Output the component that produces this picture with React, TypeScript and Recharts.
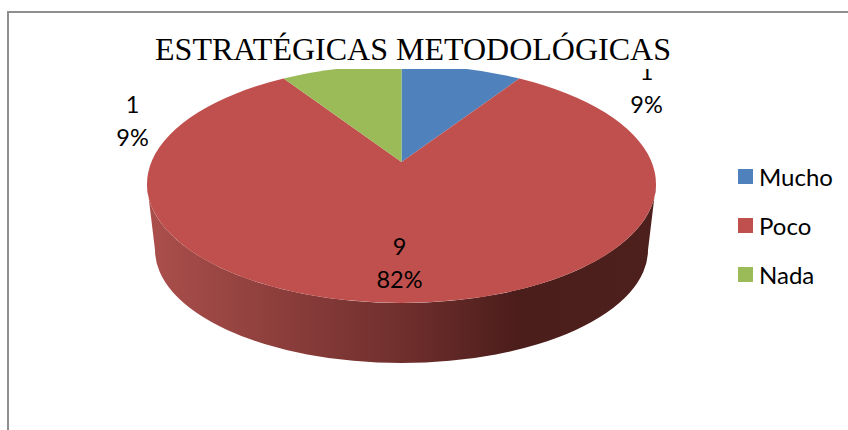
import { PieChart, Pie, Legend } from "recharts"

const CATEGORIES = ["Mucho", "Poco", "Nada"]
const VALUES = [1, 9, 1]
const COLORS = ["#4F81BD", "#C0504D", "#9BBB59"]

const chartData = CATEGORIES.map((name, i) => ({ name, value: VALUES[i], fill: COLORS[i] }))

const FONT = "Lato, sans-serif"

// tilt of the fake 3D disc
const SQUASH = 0.4676
const APEX_UP = 22 // the hub sits above the ellipse centre because of the perspective
const PERSPECTIVE = 0.836
const DEPTH = 66

const rad = (d: number) => (d * Math.PI) / 180

// clockwise degrees from the top -> ellipse parameter
function project(a: number) {
  if (a > 180) return 360 - project(360 - a)
  return (2 * Math.atan(PERSPECTIVE * Math.tan(rad(a) / 2)) * 180) / Math.PI
}

function DiscSector(props: any) {
  const { cx, cy, outerRadius, startAngle, endAngle, fill, name } = props
  const rx = outerRadius
  const ry = outerRadius * SQUASH
  const t0 = project(90 - startAngle)
  const t1 = project(90 - endAngle)
  const px = (t: number) => cx + rx * Math.sin(rad(t))
  const py = (t: number) => cy - ry * Math.cos(rad(t))
  const large = t1 - t0 > 180 ? 1 : 0
  const top = `M${cx},${cy - APEX_UP} L${px(t0)},${py(t0)} A${rx},${ry} 0 ${large} 1 ${px(t1)},${py(t1)} Z`
  const rx2 = rx - 8
  const ry2 = ry - 6
  const wall =
    `M${cx - rx},${cy} A${rx},${ry} 0 0 0 ${cx + rx},${cy} ` +
    `L${cx + rx2},${cy + DEPTH} A${rx2},${ry2} 0 0 1 ${cx - rx2},${cy + DEPTH} Z`
  const showWall = t0 < 90 && t1 > 270
  return (
    <g>
      {showWall && (
        <>
          <defs>
            <linearGradient id={`wall-${name}`} x1="0" y1="0" x2="1" y2="0">
              <stop offset="0" stopColor="#AB4F4C" />
              <stop offset="0.5" stopColor="#702F2D" />
              <stop offset="0.73" stopColor="#4B1D1B" />
              <stop offset="1" stopColor="#4E201D" />
            </linearGradient>
          </defs>
          <path d={wall} fill={`url(#wall-${name})`} />
        </>
      )}
      <path d={top} fill={fill} />
    </g>
  )
}

function renderLabel(props: any) {
  const { cx, cy, midAngle, percent, value } = props
  const inside = percent > 0.5
  const side = Math.cos(rad(midAngle)) > 0 ? 1 : -1
  const x = inside ? cx - 2 : cx + side * (side > 0 ? 245 : 269)
  const y = inside ? cy + 71 : cy + (side > 0 ? -104 : -71)
  return (
    <text x={x} y={y} textAnchor="middle" fontFamily={FONT} fontSize={23.5} fill="#000">
      <tspan x={x} dy="0">{value}</tspan>
      <tspan x={x} dy="33">{`${Math.round(percent * 100)}%`}</tspan>
    </text>
  )
}

function LegendList({ payload }: any) {
  return (
    <div>
      {(payload ?? []).map((entry: any) => (
        <div key={entry.value} style={{ height: 49, display: "flex", alignItems: "center", fontFamily: FONT, fontSize: 24, color: "#000" }}>
          <span style={{ width: 15, height: 15, background: entry.color, marginRight: 6 }} />
          {entry.value}
        </div>
      ))}
    </div>
  )
}

export default function App() {
  return (
    <div style={{ position: "absolute", left: 0, top: 0, width: 848, height: 430, overflow: "hidden", background: "#fff" }}>
      <PieChart width={848} height={430} margin={{ top: 0, right: 0, bottom: 0, left: 0 }}>
        <Pie
          data={chartData}
          dataKey="value"
          nameKey="name"
          cx={401.5}
          cy={184}
          outerRadius={254.5}
          startAngle={90}
          endAngle={-270}
          shape={DiscSector}
          label={renderLabel}
          labelLine={false}
          isAnimationActive={false}
        />
        <Legend
          layout="vertical"
          align="right"
          verticalAlign="top"
          itemSorter={null}
          wrapperStyle={{ left: 738, top: 152, width: 110 }}
          content={<LegendList />}
        />
      </PieChart>
      {/* title box sits on top of the chart and cuts off the pie and the first label */}
      <div style={{ position: "absolute", left: 148, top: 13, width: 530, height: 56, background: "#fff", textAlign: "center", fontFamily: "'Liberation Serif', serif", fontSize: 32, lineHeight: "72px", whiteSpace: "nowrap", color: "#000" }}>
        ESTRATÉGICAS METODOLÓGICAS
      </div>
      <div style={{ position: "absolute", left: 7, top: 11, width: 900, height: 500, borderTop: "2px solid #8E8E8E", borderLeft: "2px solid #8E8E8E" }} />
    </div>
  )
}
